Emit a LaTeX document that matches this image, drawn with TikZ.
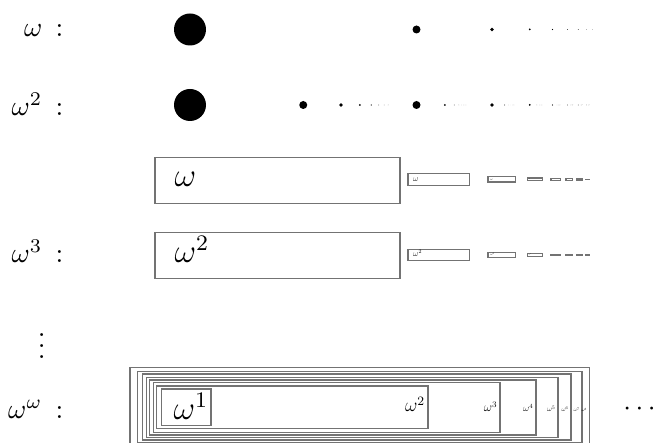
\documentclass[tikz,border=0pt]{standalone}
\usepackage{tikz}
\begin{document}
\begin{tikzpicture}[x=0.36pt,y=-0.36pt,
  boxline/.style={draw=black!55, line width=0.4pt},
  lbl/.style={anchor=base east, inner sep=0pt},
  boxtext/.style={anchor=base west, inner sep=0pt, font=\large},
  powlabel/.style={anchor=base east, inner sep=0pt, font=\large}]
\useasboundingbox (0,0) rectangle (656,443);
\begin{scope}
\clip (0,0) rectangle (656,443);
% labels
\node[lbl] (l1) at (64,37) {$\omega$\kern4.8pt:};
\node[lbl] (l2) at (64,116) {$\omega^2$\kern4.8pt:};
\node[lbl] (l3) at (64,263) {$\omega^3$\kern4.8pt:};
\node[inner sep=0pt] (l4) at (41.7,338) {$\vdots$};
\node[lbl] (l5) at (64,418.5) {$\omega^\omega$\kern4.8pt:};
% omega row
\foreach \n in {1,...,9} {
  \pgfmathsetmacro\xx{190+453*(1-1/\n)}
  \pgfmathsetmacro\rr{5.76/(\n*\n)}
  \fill (\xx,29.5) circle[radius=\rr pt];
}
% omega^2 row
\foreach \m in {1,...,8} {
  \foreach \n in {1,...,8} {
    \pgfmathsetmacro\xx{190+453*(1-1/\m)+226.5/(\m*\m)*(1-1/\n)}
    \pgfmathsetmacro\rr{5.76/(\m*\n)/(\m*\n)}
    \fill (\xx,105) circle[radius=\rr pt];
  }
}
% omega^3 rows
\draw[boxline] (155,157.5) rectangle (400,203.5);
\node[boxtext] (b1) at (174,187) {$\omega$};
\draw[boxline] (155,232.5) rectangle (400,278.5);
\node[boxtext] (b2) at (174,263) {$\omega^2$};
\foreach \n/\l in {2/408,3/488,4/527.5,5/551,6/566,7/577,8/585.5} {
  \pgfmathsetmacro\ww{245/(\n*\n)}
  \pgfmathsetmacro\hh{23/(\n*\n)}
  \draw[boxline] (\l,179.5-\hh) rectangle (\l+\ww,179.5+\hh);
  \draw[boxline] (\l,255-\hh) rectangle (\l+\ww,255+\hh);
}
\foreach \n/\l in {2/408,3/488,4/527.5} {
  \pgfmathsetmacro\ss{1/(\n*\n)}
  \pgfmathsetmacro\dx{20/(\n*\n)}
  \node[boxtext, scale=\ss] (s\n a) at (\l+\dx,179.5+6.5*\ss) {$\omega$};
  \node[boxtext, scale=\ss] (s\n b) at (\l+\dx,255+8*\ss) {$\omega^2$};
}
% omega^omega nested boxes
\foreach \n/\l/\t/\r/\b in {1/161.7/389/211/425.5, 2/156.7/386/428/428.5, 3/153.3/382.7/500/432.7,
  4/149.8/380/536/435, 5/146.2/377.3/558/437.3, 6/142.3/374/571/440, 7/137.8/371.7/582/442.5,
  8/130/367.3/589.3/446} {
  \draw[boxline] (\l,\t) rectangle (\r,\b);
}
\node[boxtext] (w1) at (173,420) {$\omega^1$};
\foreach \n/\r in {2/428,3/500,4/536,5/558,6/571,7/582,8/589.3} {
  \pgfmathsetmacro\ss{1.15/\n}
  \node[powlabel, scale=\ss] (w\n) at (\r-2.7,412) {$\omega^{\n}$};
}
\node[inner sep=0pt] (dots) at (639.5,409) {$\cdots$};
\end{scope}
\end{tikzpicture}
\end{document}
